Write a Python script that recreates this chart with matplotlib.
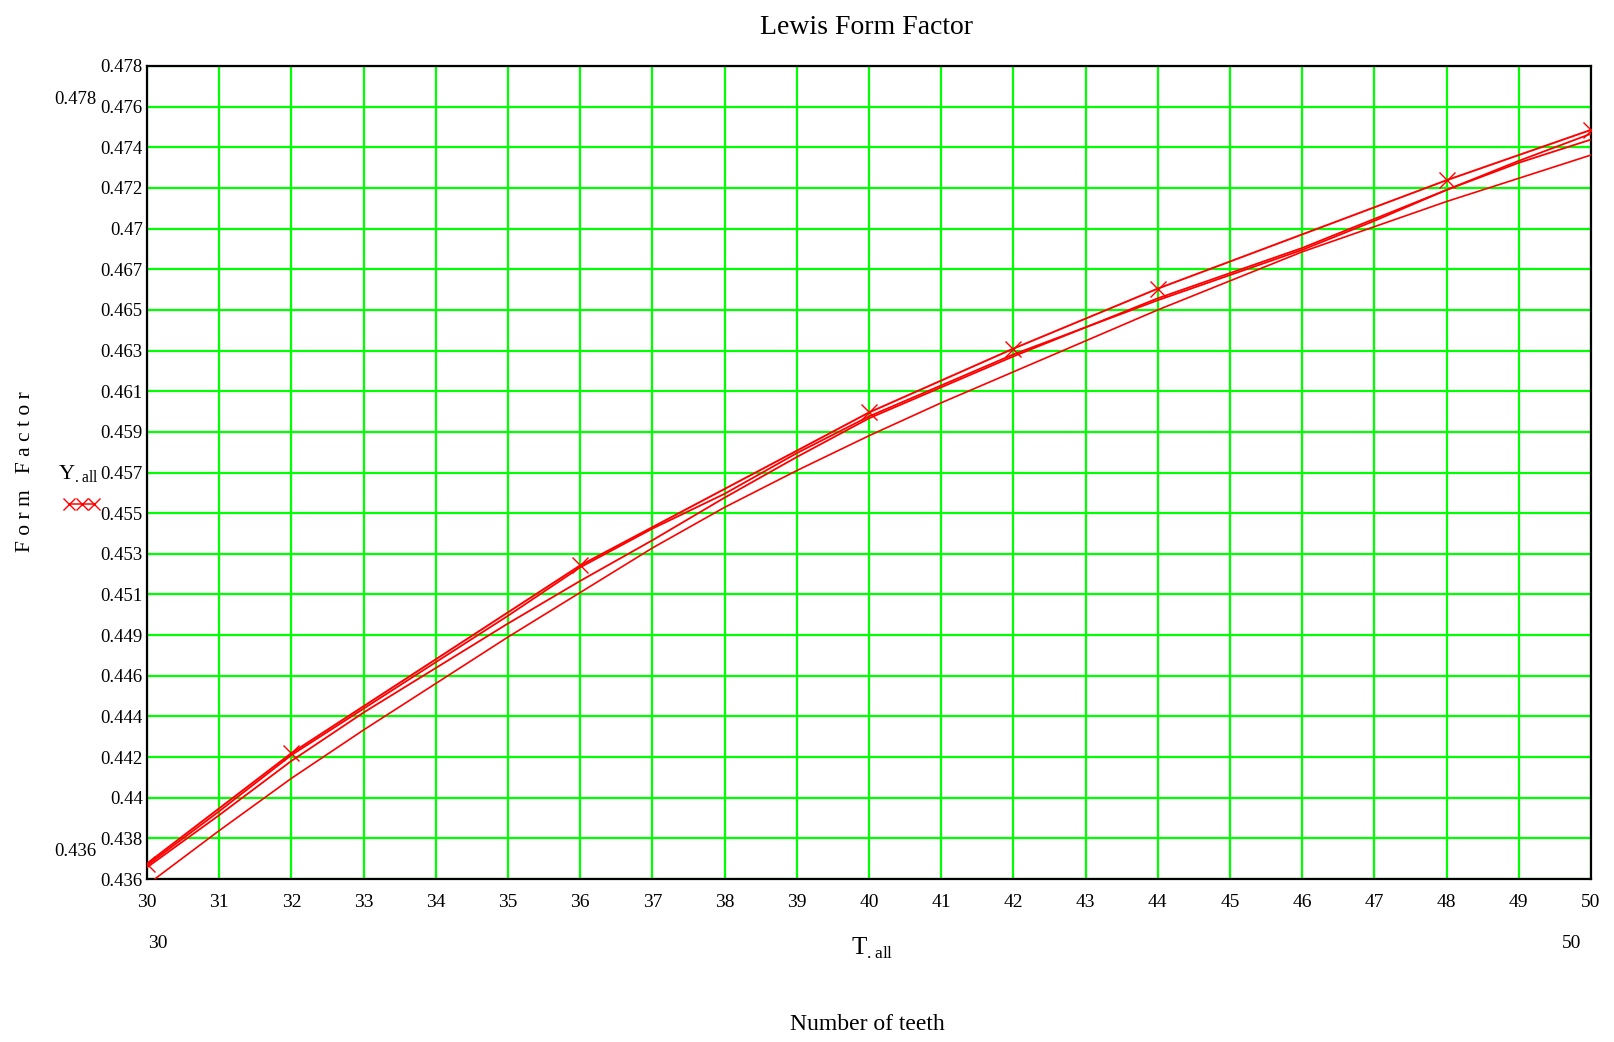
import numpy as np
import matplotlib
matplotlib.use("Agg")
import matplotlib.pyplot as plt
from matplotlib.lines import Line2D

plt.rcParams['font.family'] = ['Liberation Serif', 'DejaVu Serif']
plt.rcParams['mathtext.fontset'] = 'custom'
plt.rcParams['mathtext.rm'] = 'Liberation Serif'

# table points (drawn with x markers)
t_table = [30, 32, 36, 40, 42, 44, 48, 50]
y_table = [0.4368, 0.4425, 0.4522, 0.4601, 0.4634, 0.4665, 0.4721, 0.4747]

# interpolated traces
t_fine = [30, 31, 32, 33, 34, 35, 36, 37, 38, 39, 40, 41, 42, 43, 44, 45, 46, 47, 48, 49, 50]
y_b = [0.4367, 0.4395, 0.4424, 0.4448, 0.4472, 0.4496, 0.4521, 0.4541, 0.4559, 0.4580, 0.4599,
       0.4615, 0.4631, 0.4645, 0.4660, 0.4673, 0.4686, 0.4701, 0.4716, 0.4731, 0.4745]
y_c = [0.4366, 0.4393, 0.4421, 0.4446, 0.4469, 0.4492, 0.4514, 0.4535, 0.4557, 0.4578, 0.4598,
       0.4614, 0.4630, 0.4645, 0.4659, 0.4672, 0.4685, 0.4700, 0.4716, 0.4730, 0.4742]
y_d = [0.4357, 0.4385, 0.4412, 0.4437, 0.4461, 0.4485, 0.4508, 0.4531, 0.4552, 0.4571, 0.4589,
       0.4606, 0.4622, 0.4638, 0.4654, 0.4669, 0.4684, 0.4697, 0.4710, 0.4722, 0.4734]

x_ticks = list(range(30, 51))
y_tick_labels = ['0.436', '0.438', '0.44', '0.442', '0.444', '0.446', '0.449', '0.451', '0.453',
                 '0.455', '0.457', '0.459', '0.461', '0.463', '0.465', '0.467', '0.47', '0.472',
                 '0.474', '0.476', '0.478']
y_min, y_max = 0.436, 0.478

W, H = 1615, 1042
fig = plt.figure(figsize=(W / 100, H / 100), dpi=100)
ax = fig.add_axes([147 / W, 1 - 879 / H, 1444 / W, 813 / H])

red = '#ff0000'
ax.plot(t_fine, y_d, color=red, lw=1.2, zorder=3)
ax.plot(t_fine, y_c, color=red, lw=1.3, zorder=3)
ax.plot(t_fine, y_b, color=red, lw=1.3, zorder=3)
ax.plot(t_table, y_table, color=red, lw=1.4, marker='x', ms=11, mew=1.0, zorder=4)

ax.set_xlim(30, 50)
ax.set_ylim(y_min, y_max)
ax.set_xticks(x_ticks)
ax.set_xticklabels([str(t) for t in x_ticks], fontsize=14)
ax.set_yticks(np.linspace(y_min, y_max, len(y_tick_labels)))
ax.set_yticklabels(y_tick_labels, fontsize=13.5)
ax.tick_params(axis='both', length=0, colors='black')
ax.tick_params(axis='y', pad=3)
ax.tick_params(axis='x', pad=11)
ax.grid(True, color='#00ff00', lw=1.6, zorder=1)
ax.set_axisbelow(True)
for s in ax.spines.values():
    s.set_linewidth(1.6)
    s.set_color('black')

def ftext(x, y, s, **kw):
    fig.text(x / W, 1 - y / H, s, **kw)

ftext(867, 27, 'Lewis Form Factor', fontsize=20, ha='center', va='center')
ftext(867, 1025, 'Number of teeth', fontsize=17, ha='center', va='center')
ftext(872, 948, r'T$_{.\mathrm{all}}$', fontsize=18, ha='center', va='center')
ftext(158, 944, '30', fontsize=14, ha='center', va='center')
ftext(1572, 944, '50', fontsize=14, ha='center', va='center')
ftext(75, 99, '0.478', fontsize=13.5, ha='center', va='center')
ftext(75, 851, '0.436', fontsize=13.5, ha='center', va='center')
ftext(26, 472, 'F o r m   F a c t o r', fontsize=15.5, rotation=90, ha='center', va='center')
ftext(78, 474, r'Y$_{.\mathrm{all}}$', fontsize=16, ha='center', va='center')

key = Line2D([], [], color=red, lw=1.1, marker='x', ms=9, mew=1.0)
ax.legend(handles=[key], labels=[''], numpoints=3, handlelength=2.4, handletextpad=0,
          frameon=False, loc='center', bbox_to_anchor=(82 / W, 1 - 505 / H),
          bbox_transform=fig.transFigure, borderpad=0)

fig.savefig('out.png', dpi=100)
